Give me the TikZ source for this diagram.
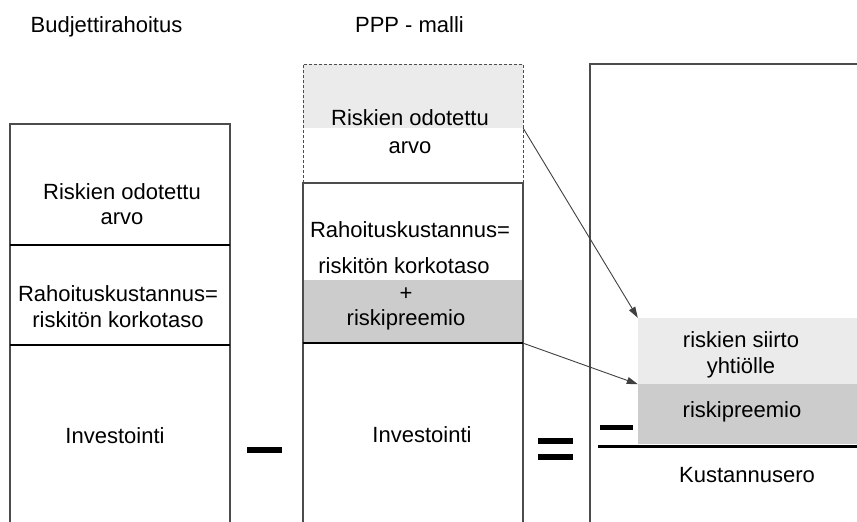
\documentclass[tikz,border=0pt]{standalone}
\usepackage{fontspec}
\setmainfont{Liberation Sans}
\usetikzlibrary{arrows.meta}
\usetikzlibrary{positioning}

\begin{document}
\begin{tikzpicture}[x=1pt,y=-1pt,
  every node/.style={inner sep=0pt,font=\fontsize{22}{25}\selectfont,align=center},
  txt/.style={anchor=base},
  edge/.style={draw=black!70,line width=1.2pt},
  sep/.style={draw=black,line width=2pt},
  lite/.style={fill=black!8,minimum width=219pt,minimum height=#1},
  dark/.style={fill=black!20,minimum width=219pt,minimum height=#1},
  bar/.style={line width=6pt},
  pil/.style={draw=black!75,line width=0.9pt,-{Triangle[length=11pt,width=7pt]}}]
  \useasboundingbox (0,0) rectangle (857,522);
  % shaded parts
  \node[lite=64pt,minimum width=220pt] (1) at (413,96) {};
  \node[dark=63pt,minimum width=220pt] (2) at (413,311.5) {};
  \node[lite=66pt] (3) at (747.5,351) {};
  \node[dark=60pt] (4) at (747.5,414) {};
  % titles
  \node[txt] (5) at (106.5,32) {Budjettirahoitus};
  \node[txt] (6) at (409.5,32) {PPP - malli};
  % budjettirahoitus (base = last line)
  \node[txt] (7) at (122,224) {Riskien odotettu\\arvo};
  \node[txt] (8) at (118,327) {Rahoituskustannus=\\[1pt]riskitön korkotaso};
  \node[txt] (9) at (115,443) {Investointi};
  % ppp
  \node[txt] (10) at (410,153) {Riskien odotettu\\[3pt]arvo};
  \node[txt] (11) at (410,237) {Rahoituskustannus=};
  \node[txt] (12) at (404,273) {riskitön korkotaso};
  \node[txt] (13) at (406,325) {+\\riskipreemio};
  \node[txt] (14) at (422,442) {Investointi};
  % erotus
  \node[txt] (15) at (741,373) {riskien siirto\\[1pt]yhtiölle};
  \node[txt] (16) at (742,417) {riskipreemio};
  \node[txt] (17) at (747,482) {Kustannusero};
  % frames
  \draw[edge] (10,522) -- (10,124) -- (230,124) -- (230,522);
  \draw[sep] (10,245) -- (230,245);
  \draw[sep] (10,345) -- (230,345);
  \draw[edge,line width=0.8pt,dash pattern=on 3pt off 2pt] (303,183) -- (303,64) -- (523,64) -- (523,183);
  \draw[edge] (303,522) -- (303,183) -- (523,183) -- (523,522);
  \draw[sep] (303,343) -- (523,343);
  \draw[edge] (590,522) -- (590,64) -- (857,64);
  \draw[line width=3pt] (598,446) -- (857,446);
  % minus and equals
  \draw[bar] (247,450) -- (282,450);
  \draw[bar] (538,441) -- (573,441);
  \draw[bar] (538,457) -- (573,457);
  \draw[bar,line width=5pt] (600,427) -- (633,427);
  \draw[pil](1.south east)--(3.north west);
  \draw[pil](2.south east)--(3.south west);
\end{tikzpicture}
\end{document}
